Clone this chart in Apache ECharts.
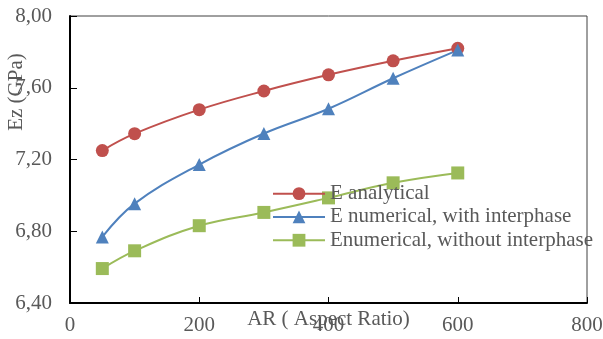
<!DOCTYPE html>
<html>
<head>
<meta charset="utf-8">
<script src="https://cdn.jsdelivr.net/npm/echarts@6/dist/echarts.min.js"></script>
<style>html,body{margin:0;padding:0;background:#fff}#c{width:603px;height:339px}</style>
</head>
<body>
<div id="c"></div>
<script>
var aspectRatio = [50, 100, 200, 300, 400, 500, 600];
var eAnalytical = [7.25, 7.344, 7.478, 7.582, 7.672, 7.75, 7.82];
var eNumWith = [6.768, 6.954, 7.172, 7.345, 7.483, 7.653, 7.81];
var eNumWithout = [6.592, 6.691, 6.831, 6.905, 6.986, 7.07, 7.125];
var seriesNames = ['E analytical', 'E numerical, with interphase', 'Enumerical, without interphase'];
var xTicks = [0, 200, 400, 600, 800];
var yTicks = [6.40, 6.80, 7.20, 7.60, 8.00];

function pairs(xs, ys){ return xs.map(function(x,i){ return [x, ys[i]]; }); }
var font = '"Liberation Serif", "Times New Roman", serif';
var grey = '#595959';

var chart = echarts.init(document.getElementById('c'));
function mk(name, data, color, symbol){
  return {
    name: name, type: 'line', data: data, smooth: 0.4,
    symbol: symbol, symbolSize: 13,
    lineStyle: {color: color, width: 2},
    itemStyle: {color: color},
    emphasis: {disabled: true}
  };
}
chart.setOption({
  animation: false,
  grid: {left: 70, right: 16, top: 16, bottom: 36, show: true, borderColor: '#404040', borderWidth: 1,
    containLabel: false, outerBoundsMode: 'none'},
  xAxis: {
    type: 'value', min: xTicks[0], max: xTicks[xTicks.length-1], interval: 200,
    name: 'AR ( Aspect Ratio)', nameLocation: 'middle', nameGap: 6, nameMoveOverlap: false,
    nameTextStyle: {fontFamily: font, fontSize: 21, color: grey},
    axisLine: {lineStyle: {color: '#000', width: 2}},
    axisTick: {inside: true, length: 6, lineStyle: {color: '#000', width: 1}},
    axisLabel: {fontFamily: font, fontSize: 21, color: grey, margin: 12},
    splitLine: {show: false}
  },
  yAxis: {
    type: 'value', min: yTicks[0], max: yTicks[yTicks.length-1], interval: 0.4,
    axisLine: {show: true, lineStyle: {color: '#000', width: 2}},
    axisTick: {show: true, inside: true, length: 7, lineStyle: {color: '#000', width: 1}},
    axisLabel: {fontFamily: font, fontSize: 21, color: grey, margin: 18,
      formatter: function(v){ return v.toFixed(2).replace('.', ','); }},
    splitLine: {show: false}
  },
  legend: {
    orient: 'vertical', left: 272, top: 182, padding: 0, itemWidth: 52, itemHeight: 16, itemGap: 0,
    textStyle: {fontFamily: font, fontSize: 21, color: grey, lineHeight: 23.3},
    data: seriesNames
  },
  graphic: [{
    type: 'text', x: 16, y: 92, rotation: Math.PI/2,
    style: {text: 'Ez (GPa)', font: '21px ' + font, fill: grey, textAlign: 'center', textVerticalAlign: 'middle'}
  }],
  series: [
    mk(seriesNames[0], pairs(aspectRatio, eAnalytical), '#C0504D', 'circle'),
    mk(seriesNames[1], pairs(aspectRatio, eNumWith), '#4F81BD', 'triangle'),
    mk(seriesNames[2], pairs(aspectRatio, eNumWithout), '#9BBB59', 'rect')
  ]
});
</script>
</body>
</html>
